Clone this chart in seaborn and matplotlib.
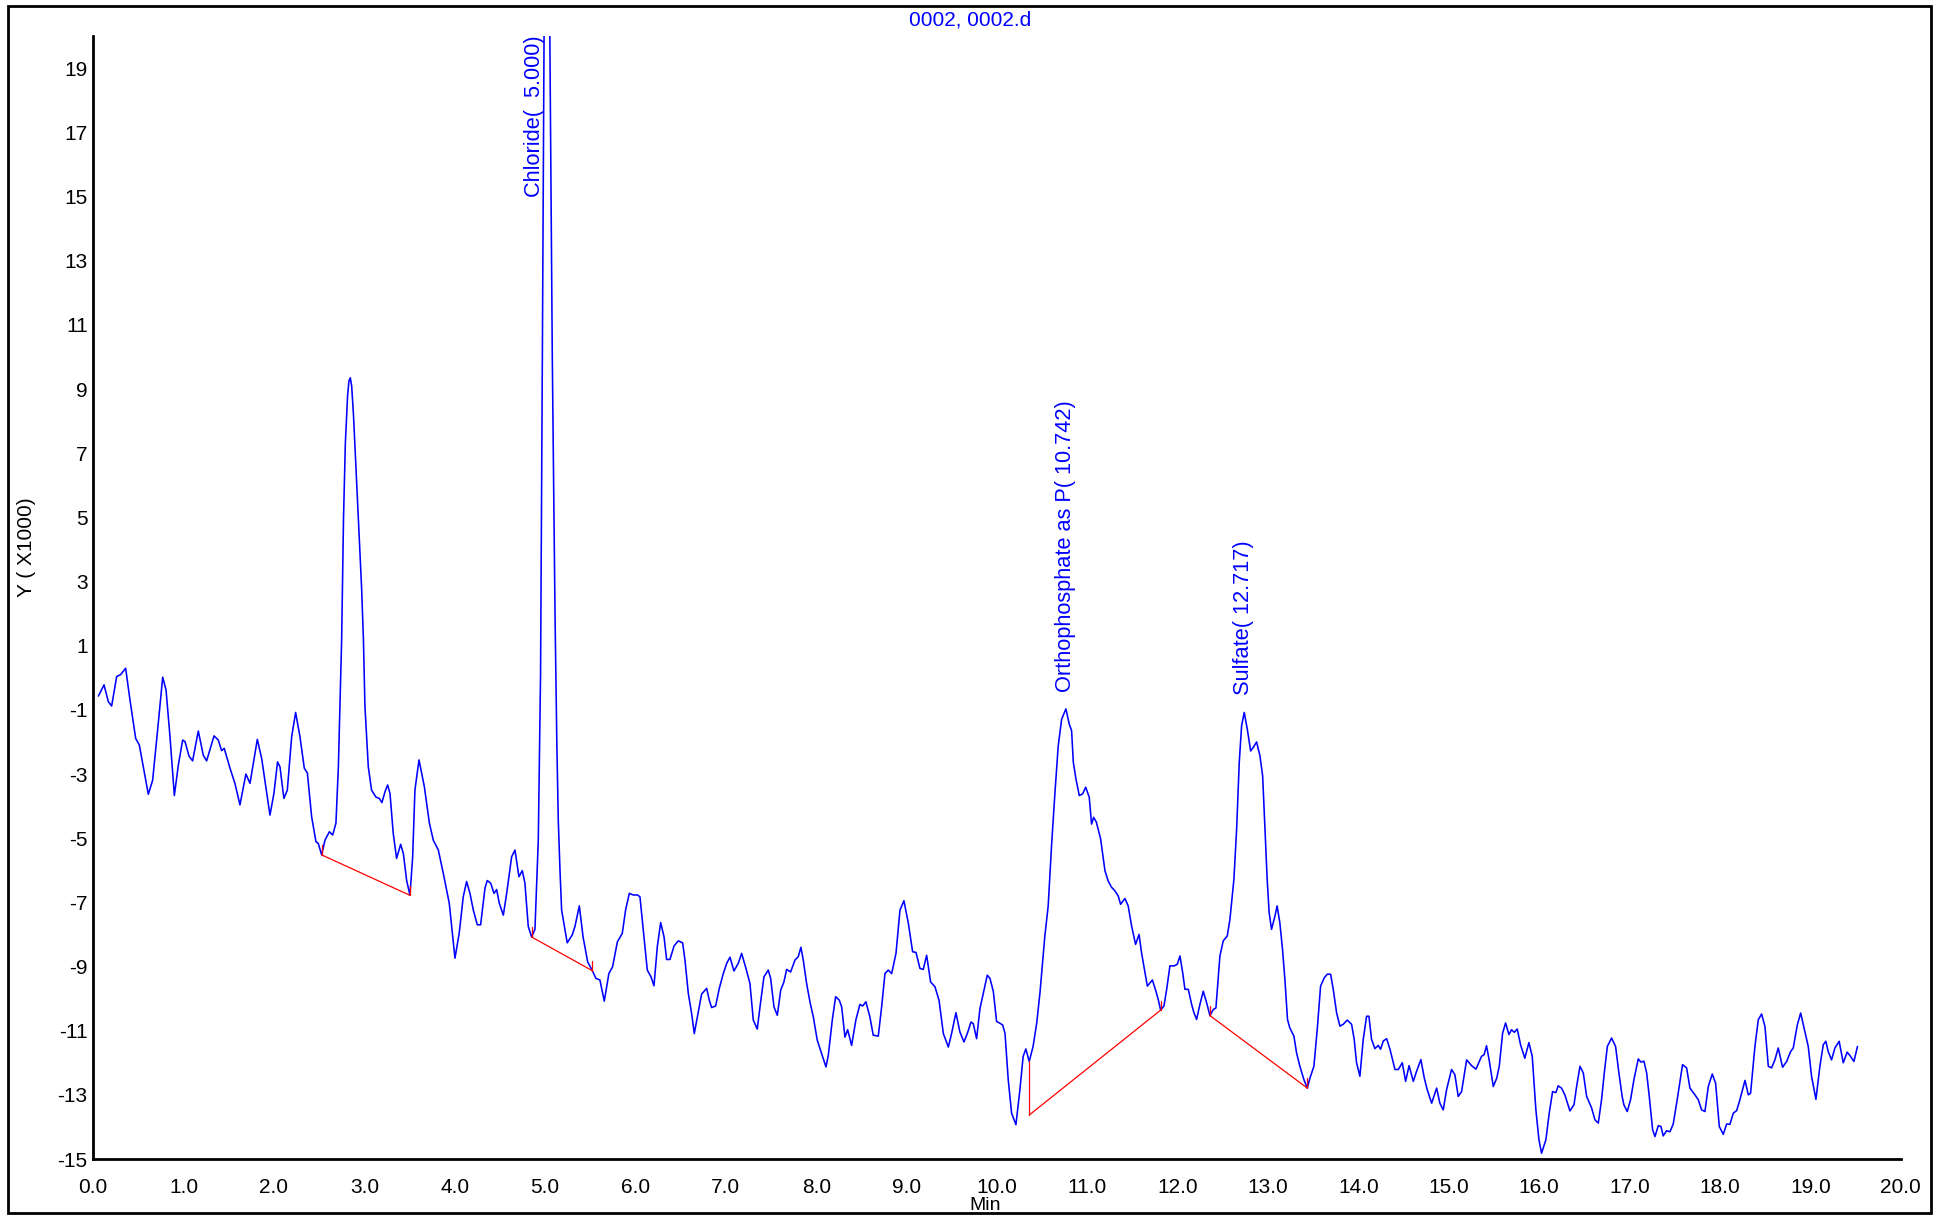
import matplotlib
matplotlib.use("Agg")
import matplotlib.pyplot as plt
from matplotlib.patches import Rectangle
from matplotlib.ticker import FixedLocator, FuncFormatter
import seaborn as sns
import pandas as pd

# Chromatogram trace: retention time (min) and detector response (x1000)
time_min = [
    0.057, 0.12, 0.167, 0.204, 0.26, 0.304, 0.359, 0.407, 0.47, 0.51, 0.61, 0.658, 0.72, 0.769, 0.806,
    0.85, 0.898, 0.942, 0.99, 1.016, 1.06, 1.10, 1.163, 1.218, 1.255, 1.337, 1.384, 1.421, 1.45, 1.514,
    1.568, 1.624, 1.69, 1.735, 1.816, 1.864, 1.956, 2.0, 2.04, 2.067, 2.11, 2.148, 2.196, 2.24, 2.288,
    2.336, 2.37, 2.417, 2.465, 2.49, 2.528, 2.565, 2.613, 2.65, 2.686, 2.713, 2.749,
    2.77, 2.79, 2.815, 2.83, 2.845, 2.86, 2.88, 2.9, 2.92, 2.945, 2.97, 2.99,
    3.007, 3.044, 3.08, 3.129, 3.166, 3.195, 3.229, 3.258, 3.284, 3.32, 3.357, 3.402, 3.432, 3.468,
    3.505, 3.535, 3.56, 3.605, 3.664, 3.72, 3.763, 3.819, 3.874, 3.94, 4.003, 4.05, 4.095, 4.132, 4.169,
    4.206, 4.25, 4.287, 4.335, 4.36, 4.398, 4.435, 4.464, 4.494, 4.538, 4.575, 4.63, 4.667, 4.711,
    4.748, 4.777, 4.814, 4.851, 4.888, 4.925, 4.95, 4.97, 4.99, 5.02, 5.05, 5.08, 5.11, 5.13, 5.146,
    5.165, 5.183, 5.245, 5.30, 5.33, 5.379, 5.42, 5.471, 5.523, 5.563, 5.607, 5.655, 5.706, 5.747,
    5.8, 5.854, 5.891, 5.932, 5.976, 6.024, 6.05, 6.087, 6.131, 6.172, 6.205, 6.242, 6.279, 6.316,
    6.345, 6.382, 6.427, 6.474, 6.522, 6.548, 6.585, 6.622, 6.651, 6.685, 6.732, 6.788, 6.817, 6.843,
    6.887, 6.928, 6.972, 7.01, 7.046, 7.09, 7.138, 7.175, 7.223, 7.267, 7.304, 7.348, 7.378, 7.422,
    7.47, 7.496, 7.533, 7.57, 7.607, 7.643, 7.673, 7.717, 7.765, 7.802, 7.831, 7.857, 7.894, 7.931,
    7.968, 8.012, 8.06, 8.108, 8.134, 8.178, 8.215, 8.256, 8.282, 8.318, 8.348, 8.392, 8.44, 8.484,
    8.514, 8.55, 8.594, 8.631, 8.687, 8.724, 8.761, 8.797, 8.835, 8.883, 8.927, 8.971, 9.02, 9.067,
    9.104, 9.148, 9.185, 9.222, 9.266, 9.314, 9.359, 9.407, 9.462, 9.498, 9.546, 9.59, 9.635, 9.672,
    9.713, 9.738, 9.775, 9.812, 9.849, 9.893, 9.923, 9.96, 9.996, 10.063, 10.089, 10.125, 10.162,
    10.21, 10.254, 10.29, 10.32, 10.357, 10.4, 10.44, 10.476, 10.53, 10.567, 10.604, 10.642, 10.678,
    10.716, 10.763, 10.8, 10.826, 10.845, 10.874, 10.911, 10.948, 10.982, 11.021, 11.047, 11.07, 11.1,
    11.147, 11.195, 11.23, 11.268, 11.305, 11.342, 11.368, 11.416, 11.452, 11.49, 11.534, 11.572,
    11.6, 11.638, 11.664, 11.72, 11.759, 11.785, 11.811, 11.848, 11.878, 11.914, 11.962, 11.995,
    12.025, 12.055, 12.08, 12.117, 12.154, 12.18, 12.209, 12.246, 12.283, 12.32, 12.357, 12.394,
    12.423, 12.467, 12.504, 12.548, 12.578, 12.622, 12.652, 12.681, 12.707, 12.736, 12.77, 12.807,
    12.836, 12.873, 12.91, 12.94, 12.966, 12.99, 13.012, 13.038, 13.076, 13.1, 13.13, 13.16, 13.186,
    13.215, 13.24, 13.286, 13.315, 13.352, 13.397, 13.434, 13.464, 13.507, 13.544, 13.581, 13.622,
    13.655, 13.692, 13.721, 13.758, 13.795, 13.832, 13.876, 13.924, 13.953, 13.979, 14.016, 14.053,
    14.09, 14.116, 14.145, 14.182, 14.219, 14.245, 14.275, 14.312, 14.349, 14.404, 14.441, 14.485,
    14.522, 14.56, 14.607, 14.643, 14.691, 14.728, 14.761, 14.81, 14.865, 14.901, 14.938, 14.975,
    15.03, 15.067, 15.104, 15.141, 15.197, 15.252, 15.3, 15.362, 15.39, 15.417, 15.446, 15.492, 15.53,
    15.558, 15.595, 15.628, 15.665, 15.694, 15.724, 15.757, 15.794, 15.841, 15.886, 15.923, 15.963,
    15.997, 16.026, 16.074, 16.111, 16.148, 16.185, 16.21, 16.247, 16.284, 16.34, 16.385, 16.414,
    16.451, 16.488, 16.525, 16.58, 16.617, 16.654, 16.69, 16.72, 16.754, 16.801, 16.845, 16.882,
    16.918, 16.937, 16.974, 17.011, 17.048, 17.096, 17.126, 17.159, 17.189, 17.218, 17.255, 17.281,
    17.318, 17.348, 17.372, 17.41, 17.447, 17.483, 17.527, 17.586, 17.631, 17.668, 17.723, 17.76,
    17.797, 17.834, 17.871, 17.915, 17.952, 17.993, 18.037, 18.074, 18.11, 18.148, 18.185, 18.221,
    18.277, 18.314, 18.339, 18.387, 18.424, 18.461, 18.498, 18.535, 18.572, 18.608, 18.645, 18.693,
    18.738, 18.782, 18.811, 18.856, 18.893, 18.94, 18.977, 19.014, 19.062, 19.106, 19.143, 19.172,
    19.198, 19.235, 19.272, 19.319, 19.364, 19.408, 19.445, 19.482, 19.522,
]
response_k = [
    -0.57, -0.22, -0.74, -0.88, 0.04, 0.10, 0.30, -0.69, -1.89, -2.09, -3.63, -3.19, -1.42, 0.02, -0.38,
    -1.84, -3.67, -2.72, -1.94, -1.99, -2.44, -2.59, -1.66, -2.41, -2.59, -1.81, -1.94, -2.27, -2.2, -2.82,
    -3.29, -3.96, -3.0, -3.29, -1.92, -2.51, -4.28, -3.6, -2.62, -2.78, -3.76, -3.5, -1.84, -1.08, -1.84,
    -2.82, -2.97, -4.33, -5.11, -5.16, -5.52, -5.06, -4.8, -4.9, -4.53, -2.77, 1.18,
    5.0, 7.3, 8.8, 9.25, 9.35, 9.1, 8.2, 7.0, 5.8, 4.3, 2.8, 1.2,
    -0.9, -2.77, -3.5, -3.72, -3.76, -3.89, -3.55, -3.34, -3.6, -4.85, -5.63, -5.19, -5.48, -6.31,
    -6.78, -5.58, -3.5, -2.56, -3.39, -4.53, -5.06, -5.37, -6.1, -7.03, -8.74, -7.96, -6.82, -6.35, -6.72,
    -7.24, -7.7, -7.7, -6.56, -6.32, -6.4, -6.72, -6.6, -7.03, -7.4, -6.72, -5.58, -5.37, -6.2,
    -6.01, -6.4, -7.75, -8.08, -7.84, -5.06, 0.1, 10.0, 21.0, 26.0, 21.0, 10.0, 2.0, -2.0, -4.43,
    -5.99, -7.24, -8.26, -8.02, -7.76, -7.11, -8.07, -8.85, -9.13, -9.37, -9.42, -10.08, -9.22, -9.01,
    -8.23, -7.97, -7.24, -6.72, -6.77, -6.77, -6.83, -7.87, -9.11, -9.32, -9.6, -8.38, -7.63, -8.07,
    -8.78, -8.78, -8.36, -8.2, -8.26, -8.8, -9.84, -10.47, -11.09, -10.57, -9.86, -9.68, -10.05, -10.28,
    -10.23, -9.68, -9.22, -8.9, -8.71, -9.14, -8.9, -8.59, -9.06, -9.53, -10.67, -10.95, -10.26, -9.32,
    -9.11, -9.37, -10.26, -10.52, -9.74, -9.48, -9.09, -9.17, -8.8, -8.69, -8.4, -8.8, -9.53, -10.1,
    -10.57, -11.3, -11.72, -12.13, -11.77, -10.67, -9.94, -10.05, -10.26, -11.2, -10.97, -11.46, -10.65, -10.18,
    -10.23, -10.1, -10.57, -11.14, -11.17, -10.26, -9.22, -9.11, -9.22, -8.59, -7.24, -6.95, -7.66, -8.54,
    -8.56, -9.06, -9.09, -8.65, -9.48, -9.63, -10.05, -11.09, -11.51, -11.09, -10.44, -11.04, -11.35, -11.09,
    -10.73, -10.78, -11.25, -10.31, -9.84, -9.27, -9.37, -9.78, -10.71, -10.82, -11.08, -12.53, -13.57,
    -13.93, -12.84, -11.8, -11.57, -11.96, -11.49, -10.76, -9.82, -8.05, -7.11, -5.24, -3.57, -2.12,
    -1.29, -0.97, -1.44, -1.65, -2.63, -3.15, -3.67, -3.62, -3.41, -3.72, -4.56, -4.35, -4.5,
    -5.02, -6.01, -6.33, -6.53, -6.64, -6.8, -7.06, -6.88, -7.11, -7.74, -8.31, -8.0,
    -8.57, -9.19, -9.61, -9.42, -9.77, -10.03, -10.36, -10.23, -9.71, -8.98, -8.98, -8.93,
    -8.67, -9.19, -9.71, -9.71, -10.18, -10.44, -10.65, -10.18, -9.77, -10.13, -10.53, -10.34,
    -10.29, -8.67, -8.2, -8.05, -7.53, -6.28, -4.72, -2.64, -1.5, -1.08, -1.6, -2.28,
    -2.17, -2.0, -2.43, -3.06, -4.72, -6.28, -7.32, -7.84, -7.43, -7.11, -7.63, -8.47, -9.4,
    -10.65, -10.91, -11.17, -11.69, -12.11, -12.53, -12.79, -12.47, -12.11, -10.96, -9.61, -9.35,
    -9.24, -9.24, -9.71, -10.44, -10.86, -10.8, -10.67, -10.8, -11.27, -12.0, -12.42, -11.27,
    -10.55, -10.55, -11.27, -11.56, -11.46, -11.58, -11.32, -11.25, -11.58, -12.21, -12.21, -12.0,
    -12.58, -12.09, -12.58, -12.27, -11.9, -12.47, -12.84, -13.26, -12.79, -13.26, -13.47, -12.84,
    -12.21, -12.37, -13.05, -12.9, -11.91, -12.09, -12.2, -11.8, -11.75, -11.47, -11.91, -12.74, -12.48,
    -12.11, -11.08, -10.76, -11.12, -10.97, -11.05, -10.95, -11.44, -11.86, -11.37, -11.8, -13.46,
    -14.4, -14.82, -14.4, -13.57, -12.9, -12.93, -12.72, -12.79, -13.0, -13.5, -13.31, -12.74,
    -12.11, -12.32, -13.05, -13.41, -13.78, -13.88, -13.15, -12.32, -11.49, -11.23, -11.49, -12.32,
    -13.05, -13.31, -13.52, -13.15, -12.53, -11.88, -11.98, -11.95, -12.32, -13.05, -14.09, -14.3,
    -13.96, -13.99, -14.28, -14.12, -14.15, -13.91, -13.15, -12.06, -12.16, -12.79, -13.0, -13.15,
    -13.47, -13.52, -12.74, -12.35, -12.64, -13.99, -14.23, -13.91, -13.92, -13.57, -13.49, -13.15,
    -12.55, -13.0, -12.95, -11.49, -10.66, -10.48, -10.87, -12.11, -12.16, -11.91, -11.54, -12.14,
    -11.96, -11.65, -11.54, -10.82, -10.45, -11.03, -11.49, -12.43, -13.14, -12.11, -11.44, -11.33,
    -11.65, -11.91, -11.54, -11.33, -12.0, -11.67, -11.8, -11.96, -11.49,
]

# Integration baselines (start/end time and response)
base_t0 = [2.528, 4.851, 10.357, 12.357]
base_y0 = [-5.52, -8.08, -13.63, -10.53]
base_t1 = [3.505, 5.523, 11.811, 13.434]
base_y1 = [-6.78, -9.13, -10.36, -12.79]
# Drop line at the orthophosphate start
drop_t = [10.357]
drop_y0 = [-11.96]
drop_y1 = [-13.63]

# Peak identifications
peak_names = ["Chloride(  5.000)", "Orthophosphate as P( 10.742)", "Sulfate( 12.717)"]
peak_label_t = [4.885, 10.76, 12.725]
peak_label_y = [15.0, -0.45, -0.55]

x_ticks = [float(v) for v in range(0, 21)]
y_ticks = list(range(-15, 20, 2))

sns.set_style("white")
plt.rcParams["font.family"] = ["Liberation Sans", "DejaVu Sans"]

BLUE = "#0000ff"
RED = "#ff0000"

fig = plt.figure(figsize=(19.48, 12.15), dpi=100)
ax = fig.add_axes([0.04784, 0.04609, 0.92788, 0.92412])

df = pd.DataFrame({"time": time_min, "resp": response_k})
sns.lineplot(data=df, x="time", y="resp", ax=ax, color=BLUE, linewidth=1.15,
             sort=False, estimator=None)

# Baselines with short marker ticks at the integration ends
tick_h = 0.3
for t0, y0, t1, y1 in zip(base_t0, base_y0, base_t1, base_y1):
    ax.plot([t0, t1], [y0, y1], color=RED, linewidth=0.9, zorder=3)
    ax.plot([t1, t1], [y1, y1 + tick_h], color=RED, linewidth=0.9, zorder=3)
    if t0 not in drop_t:
        ax.plot([t0, t0], [y0, y0 + tick_h], color=RED, linewidth=0.9, zorder=3)
for t, a, b in zip(drop_t, drop_y0, drop_y1):
    ax.plot([t, t], [a, b], color=RED, linewidth=0.9, zorder=3)

for name, t, y in zip(peak_names, peak_label_t, peak_label_y):
    ax.text(t, y, name, rotation=90, ha="center", va="bottom", color=BLUE,
            fontsize=15.7, clip_on=False)

ax.set_xlim(0, 20)
ax.set_ylim(-15, 20)
ax.xaxis.set_major_locator(FixedLocator(x_ticks))
ax.xaxis.set_major_formatter(FuncFormatter(lambda v, p: f"{v:.1f}"))
ax.yaxis.set_major_locator(FixedLocator(y_ticks))
ax.yaxis.set_major_formatter(FuncFormatter(lambda v, p: f"{int(round(v))}"))

for side in ["top", "right"]:
    ax.spines[side].set_visible(False)
for side in ["left", "bottom"]:
    ax.spines[side].set_linewidth(2.0)
    ax.spines[side].set_color("black")

ax.tick_params(axis="x", direction="out", length=8, width=2.0, pad=5.5,
               labelsize=15, colors="black")
ax.tick_params(axis="y", direction="out", length=7, width=2.0, pad=-3,
               labelsize=15, colors="black")
ax.set_xlabel("")
ax.set_ylabel("")
ax.grid(False)

fig.text(27 / 1948, 1 - 547 / 1215, "Y ( X1000)", rotation=90, ha="center",
         va="center", fontsize=15, color="black")
fig.text(985 / 1948, 0.5 / 1215, "Min", ha="center", va="bottom",
         fontsize=14, color="black")
fig.text(970 / 1948, 1 - 20 / 1215, "0002, 0002.d", ha="center", va="center",
         fontsize=15, color=BLUE)

# Outer frame of the report page
fig.patches.append(Rectangle((8 / 1948, 2 / 1215), (1931 - 8) / 1948,
                             (1213 - 6) / 1215, transform=fig.transFigure,
                             fill=False, edgecolor="black", linewidth=2.0))

fig.savefig("out.png", dpi=100)
